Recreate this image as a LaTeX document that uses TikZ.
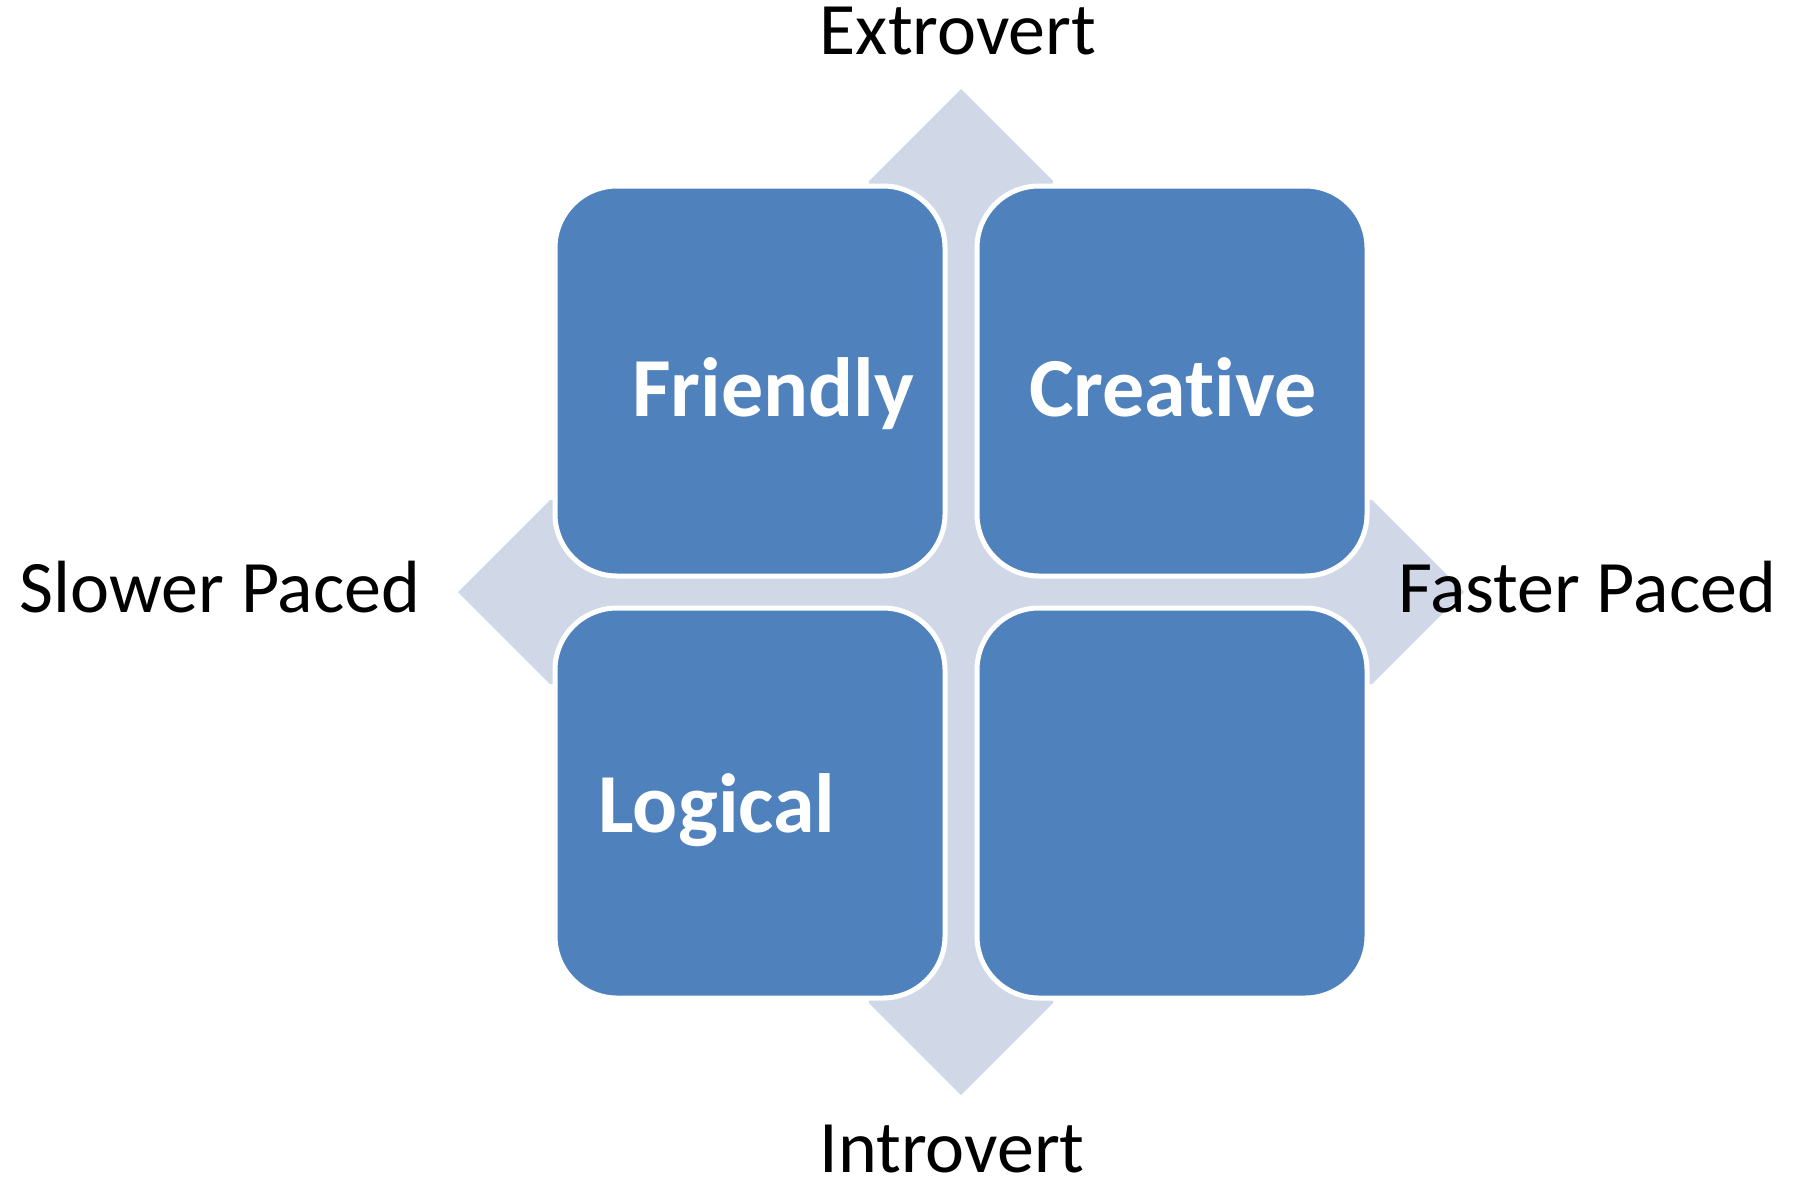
\documentclass[tikz,border=0pt]{standalone}
\usepackage{fontspec}
\setmainfont{Carlito}[Ligatures=NoCommon]
\definecolor{boxblue}{HTML}{4F81BD}
\definecolor{arrowfill}{HTML}{D0D8E8}
\tikzset{
  quad/.style={rectangle, rounded corners=62pt, minimum width=390pt, minimum height=390pt,
    inner sep=0pt, outer sep=0pt, fill=boxblue, draw=white, line width=5pt},
  quadtext/.style={anchor=base, inner sep=0pt, text=white, font=\fontsize{84}{98}\selectfont\bfseries},
  axislabel/.style={anchor=base, inner sep=0pt, text=black, font=\fontsize{74}{88}\selectfont},
}
\begin{document}
\begin{tikzpicture}[x=1pt,y=-1pt]
\useasboundingbox (0,0) rectangle (1795,1183);
% four-way arrow background
\fill[arrowfill] (869,181) -- (961,89) -- (1053,181) -- (1053,1003) -- (961,1095) -- (869,1003) -- cycle;
\fill[arrowfill] (550,500) -- (458,592) -- (550,684) -- (1372,684) -- (1464,592) -- (1372,500) -- cycle;
% quadrants
\node[quad] (tl) at (750,381) {};
\node[quad] (tr) at (1172,381) {};
\node[quad] (bl) at (750,803) {};
\node[quad] (br) at (1172,803) {};
% quadrant texts
\node[quadtext] (friendly) at (773,416) {Friendly};
\node[quadtext] (creative) at (1173,416) {Creative};
\node[quadtext] (logical) at (717,832) {Logical};
% axis labels
\node[axislabel] (extro) at (958,54) {Extrovert};
\node[axislabel, text depth=0pt] (intro) at (952,1172) {Introvert};
\node[axislabel] (slow) at (220,612) {Slower Paced};
\node[axislabel] (fast) at (1587,612) {Faster Paced};
\end{tikzpicture}
\end{document}
